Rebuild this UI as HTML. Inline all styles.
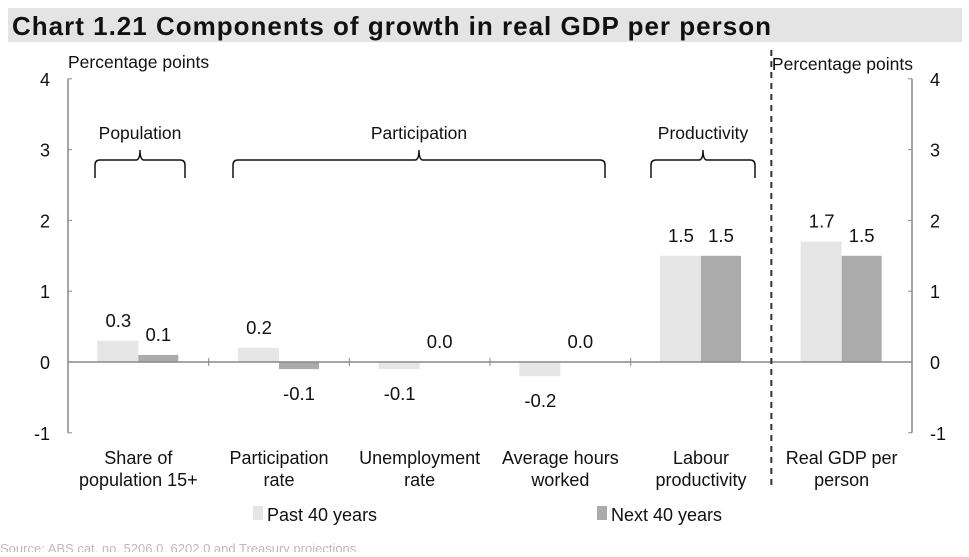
<!DOCTYPE html>
<html><head><meta charset="utf-8"><style>
body{margin:0;background:#fff;width:969px;height:552px;overflow:hidden;font-family:"Liberation Sans",sans-serif;}
svg text{font-family:"Liberation Sans",sans-serif;}
</style></head><body>
<svg width="969" height="552" viewBox="0 0 969 552">
<rect x="8" y="8" width="954" height="34" fill="#e4e4e4"/>
<text x="12" y="35" font-size="26" font-weight="bold" letter-spacing="1" fill="#111">Chart 1.21   Components of growth in real GDP per person</text>
<g id="g"></g>
</svg>
<script>
const categories=[["Share of","population 15+"],["Participation","rate"],["Unemployment","rate"],["Average hours","worked"],["Labour","productivity"],["Real GDP per","person"]];
const pastValues=[0.3,0.2,-0.1,-0.2,1.5,1.7];
const nextValues=[0.1,-0.1,0.0,0.0,1.5,1.5];
const pastLabels=["0.3","0.2","-0.1","-0.2","1.5","1.7"];
const nextLabels=["0.1","-0.1","0.0","0.0","1.5","1.5"];
const yTicks=[-1,0,1,2,3,4];
const NS="http://www.w3.org/2000/svg";
const g=document.getElementById('g');
const x0=68,x1=912,gw=(x1-x0)/6;
function y(v){return 362-v*70.8;}
function xc(i){return x0+gw*(i+0.5);}
function el(t,a,txt){const e=document.createElementNS(NS,t);for(const k in a)e.setAttribute(k,a[k]);if(txt!==undefined)e.textContent=txt;g.appendChild(e);return e;}
let e;
e=el('line',{x1:x0,y1:y(4),x2:x0,y2:y(-1),stroke:'#888','stroke-width':1.5});


e=el('line',{x1:x1,y1:y(4),x2:x1,y2:y(-1),stroke:'#888','stroke-width':1.5});


yTicks.forEach(v=>{
 el('line',{x1:x0,y1:y(v),x2:x0+4,y2:y(v),stroke:'#888'});
 el('line',{x1:x1-4,y1:y(v),x2:x1,y2:y(v),stroke:'#888'});
 e=el('text',{x:50,y:y(v)+7,'font-size':18,'text-anchor':'end',fill:'#111'},String(v));
 
 
 e=el('text',{x:930,y:y(v)+7,'font-size':18,fill:'#111'},String(v));
 
 
});
e=el('text',{x:68,y:68,'font-size':17.5,fill:'#111'},'Percentage points');


e=el('text',{x:913,y:70,'font-size':17.5,'text-anchor':'end',fill:'#111'},'Percentage points');


categories.forEach((c,i)=>{
 const cx=xc(i);
 const pv=pastValues[i],nv=nextValues[i];
 e=el('rect',{x:cx-41,y:Math.min(y(pv),y(0)),width:41,height:Math.abs(y(pv)-y(0)),fill:'#e6e6e6'});
 
 
 e=el('rect',{x:cx,y:Math.min(y(nv),y(0)),width:40,height:Math.abs(y(nv)-y(0)),fill:'#ababab'});
 
 
 const ly=v=>v>=0?y(v)-14:y(v)+31;
 e=el('text',{x:cx-20,y:ly(pv),'font-size':18.5,'text-anchor':'middle',fill:'#111'},pastLabels[i]);
 
 
 e=el('text',{x:cx+20,y:ly(nv),'font-size':18.5,'text-anchor':'middle',fill:'#111'},nextLabels[i]);
 
 
 c.forEach((t,j)=>{
  e=el('text',{x:cx,y:464+j*22,'font-size':18,'text-anchor':'middle',fill:'#111'},t);
  
  
 });
 if(i>0&&i<5){el('line',{x1:x0+gw*i,y1:y(0)-4,x2:x0+gw*i,y2:y(0)+4,stroke:'#888'});}
});
e=el('line',{x1:x0,y1:y(0),x2:x1,y2:y(0),stroke:'#888','stroke-width':1.5});


e=el('line',{x1:x0+gw*5,y1:50,x2:x0+gw*5,y2:490,stroke:'#333','stroke-width':2,'stroke-dasharray':'6,5'});


[[95,185,'Population'],[233,605,'Participation'],[651,755,'Productivity']].forEach(b=>{
 const m=(b[0]+b[1])/2;
 e=el('path',{d:`M${b[0]},178 L${b[0]},165 Q${b[0]},160 ${b[0]+5},160 L${m-4},160 Q${m},160 ${m},150 Q${m},160 ${m+4},160 L${b[1]-5},160 Q${b[1]},160 ${b[1]},165 L${b[1]},178`,fill:'none',stroke:'#111','stroke-width':1.5});
 
 
 e=el('text',{x:m,y:139,'font-size':17.5,'text-anchor':'middle',fill:'#111'},b[2]);
 
 
});
e=el('rect',{x:253,y:506,width:10,height:14,fill:'#e6e6e6'});


e=el('text',{x:267,y:521,'font-size':18,fill:'#111'},'Past 40 years');


e=el('rect',{x:597,y:506,width:10,height:14,fill:'#ababab'});


e=el('text',{x:611,y:521,'font-size':18,fill:'#111'},'Next 40 years');


e=el('text',{x:0,y:553,'font-size':13,fill:'#bbb'},'Source: ABS cat. no. 5206.0, 6202.0 and Treasury projections.');


</script>
</body></html>
